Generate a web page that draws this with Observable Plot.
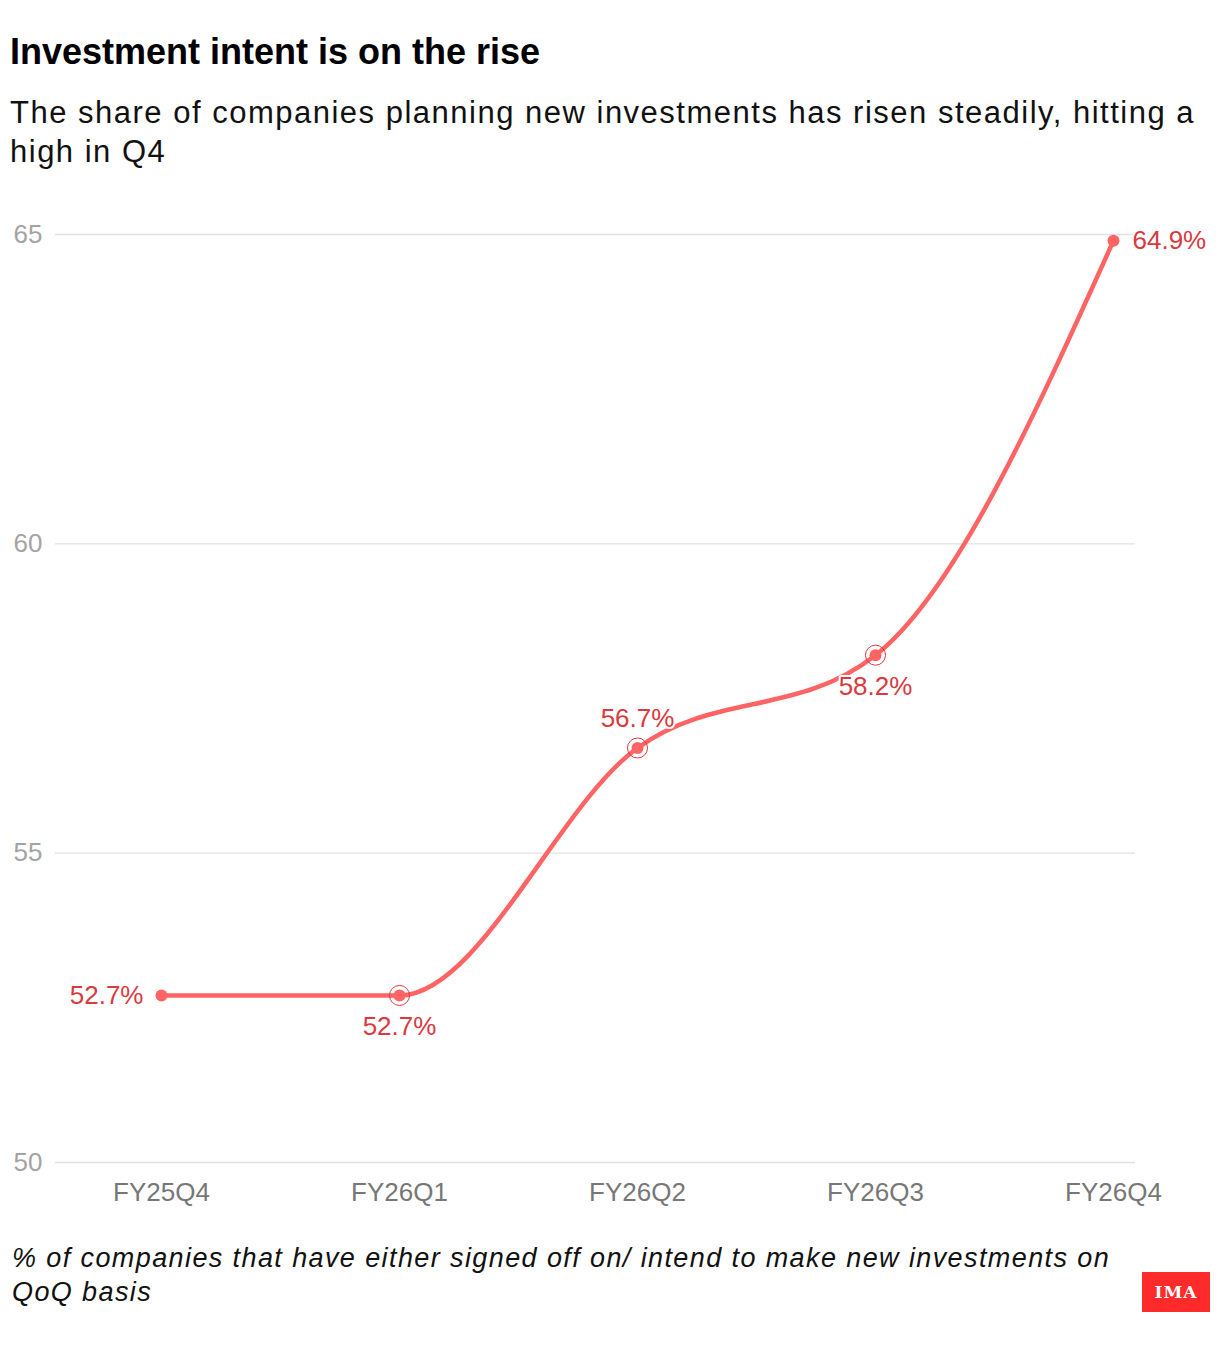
<!DOCTYPE html>
<html>
<head>
<meta charset="utf-8">
<script src="https://cdn.jsdelivr.net/npm/d3@7"></script>
<script src="https://cdn.jsdelivr.net/npm/@observablehq/plot@0.6"></script>
<style>
  html, body { margin: 0; padding: 0; background: #fff; }
  body { width: 1220px; height: 1346px; position: relative; font-family: "Liberation Sans", Arial, sans-serif; overflow: hidden; }
  #title { position: absolute; left: 10px; top: 31px; font-size: 36px; line-height: 42px; font-weight: 700; color: #000; }
  #subtitle { position: absolute; left: 10px; top: 93px; width: 1208px; font-size: 31px; line-height: 39px; letter-spacing: 1.5px; color: #111; }
  #chart { position: absolute; left: 0; top: 190px; }
  #caption { position: absolute; left: 12px; top: 1241px; width: 1125px; font-size: 27px; line-height: 34px; letter-spacing: 1.4px; font-style: italic; color: #111; }
  #logo { position: absolute; left: 1142px; top: 1272px; width: 68px; height: 40px; background: #ff2a2a; color: #fff; font-family: "DejaVu Serif", "Liberation Serif", serif; font-weight: 700; font-size: 17px; line-height: 40px; text-align: center; letter-spacing: 1px; }
</style>
</head>
<body>
<div id="title">Investment intent is on the rise</div>
<div id="subtitle">The share of companies planning new investments has risen steadily, hitting a high in Q4</div>
<div id="chart"></div>
<div id="caption">% of companies that have either signed off on/ intend to make new investments on QoQ basis</div>
<div id="logo">IMA</div>
<script>
const quarters = ["FY25Q4", "FY26Q1", "FY26Q2", "FY26Q3", "FY26Q4"];
const values = [52.7, 52.7, 56.7, 58.2, 64.9];
const labelPos = ["left", "below", "above", "below", "right"];
const yTicks = [50, 55, 60, 65];

const data = quarters.map((q, i) => ({q, v: values[i], pos: labelPos[i], ring: i > 0 && i < quarters.length - 1}));

const lineColor = "#ff6464";
const labelColor = "#d93a3f";
const fmt = d => d.v.toFixed(1) + "%";

const chart = Plot.plot({
  width: 1220,
  height: 1022,
  marginTop: 44,
  marginBottom: 50,
  marginLeft: 55,
  marginRight: 85,
  style: {fontFamily: "'Liberation Sans', Arial, sans-serif", fontSize: "26px", background: "transparent"},
  x: {type: "point", domain: quarters, range: [160, 1113], padding: 0, label: null},
  y: {domain: [50, 65], label: null},
  marks: [
    Plot.ruleY(yTicks, {stroke: "#e2e2e2", strokeWidth: 1.3}),
    Plot.axisY({ticks: yTicks, tickSize: 0, tickPadding: 13, fill: "#a3a3a3", fontSize: 26, label: null}),
    Plot.axisX({tickSize: 0, tickPadding: 20, fill: "#777", fontSize: 26, label: null}),
    Plot.line(data, {x: "q", y: "v", stroke: lineColor, strokeWidth: 4.5, curve: "monotone-x"}),
    Plot.dot(data.filter(d => d.ring), {x: "q", y: "v", r: 10, stroke: "#d93a3f", strokeWidth: 1, fill: "none"}),
    Plot.dot(data, {x: "q", y: "v", r: 6, fill: lineColor}),
    Plot.text(data.filter(d => d.pos === "left"), {x: "q", y: "v", text: fmt, textAnchor: "end", dx: -18, fill: labelColor, fontSize: 26, stroke: "white", strokeWidth: 4}),
    Plot.text(data.filter(d => d.pos === "right"), {x: "q", y: "v", text: fmt, textAnchor: "start", dx: 19, fill: labelColor, fontSize: 26, stroke: "white", strokeWidth: 4}),
    Plot.text(data.filter(d => d.pos === "above"), {x: "q", y: "v", text: fmt, dy: -29, fill: labelColor, fontSize: 26, stroke: "white", strokeWidth: 4}),
    Plot.text(data.filter(d => d.pos === "below"), {x: "q", y: "v", text: fmt, dy: 31, fill: labelColor, fontSize: 26, stroke: "white", strokeWidth: 4})
  ]
});
document.getElementById("chart").appendChild(chart);
</script>
</body>
</html>
